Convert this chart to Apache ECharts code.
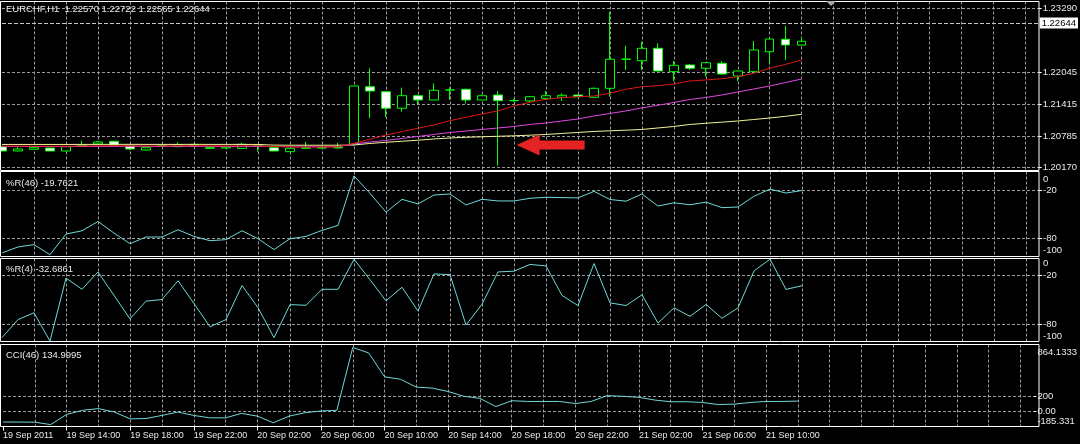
<!DOCTYPE html>
<html><head><meta charset="utf-8">
<script src="https://cdn.jsdelivr.net/npm/echarts@6/dist/echarts.min.js"></script>
<style>html,body{margin:0;padding:0;background:#000;}#c{width:1080px;height:444px;}</style>
</head><body><div id="c"></div>
<script>
// ---------------- data ----------------
const symbolName = 'EURCHF,H1';
// one label every 4 hourly bars, starting at bar 0 (19 Sep 10:00)
const xTickLabels = ['19 Sep 2011','19 Sep 14:00','19 Sep 18:00','19 Sep 22:00','20 Sep 02:00','20 Sep 06:00',
  '20 Sep 10:00','20 Sep 14:00','20 Sep 18:00','20 Sep 22:00','21 Sep 02:00','21 Sep 06:00','21 Sep 10:00'];
const barsPerLabel = 4;
const priceTicks = [1.20170, 1.20785, 1.21415, 1.22045, 1.23290];
const wprGridLevels = [-80, -20];
const wprLabelValues = [-100, -80, -20, 0];
const cciGridLevels = [0, 200];

const open  = [1.20581,1.20497,1.20530,1.20555,1.20497,1.20595,1.20634,1.20687,1.20600,1.20516,1.20598,1.20581,1.20600,1.20560,1.20555,1.20548,1.20600,1.20561,1.20483,1.20550,1.20555,1.20558,
  1.20628,1.21755,1.21658,1.21333,1.21579,1.21495,1.21691,1.21705,1.21495,1.21593,1.21481,1.21476,1.21528,1.21548,1.21593,1.21548,1.21724,1.22292,1.22264,1.22507,1.22049,1.22180,1.22116,1.22213,1.21965,1.22049,1.22440,1.22683,1.22570];
const close = [1.20497,1.20536,1.20561,1.20497,1.20581,1.20610,1.20673,1.20614,1.20536,1.20561,1.20600,1.20620,1.20625,1.20550,1.20575,1.20628,1.20620,1.20497,1.20549,1.20555,1.20560,1.20565,
  1.21769,1.21671,1.21333,1.21579,1.21495,1.21685,1.21691,1.21495,1.21579,1.21481,1.21485,1.21560,1.21579,1.21587,1.21560,1.21724,1.22292,1.22295,1.22507,1.22063,1.22174,1.22116,1.22225,1.22004,1.22063,1.22474,1.22689,1.22572,1.22644];
const low   = [1.20490,1.20490,1.20520,1.20490,1.20490,1.20580,1.20630,1.20605,1.20510,1.20510,1.20580,1.20575,1.20580,1.20530,1.20545,1.20540,1.20483,1.20490,1.20480,1.20545,1.20550,1.20545,
  1.20600,1.21137,1.21157,1.21266,1.21417,1.21490,1.21495,1.21430,1.21490,1.20209,1.21460,1.21450,1.21495,1.21476,1.21550,1.21540,1.21560,1.22082,1.22082,1.22050,1.21867,1.22082,1.21951,1.21990,1.21867,1.22040,1.22194,1.22278,1.22565];
const high  = [1.20590,1.20570,1.20575,1.20565,1.20590,1.20700,1.20690,1.20695,1.20605,1.20565,1.20628,1.20670,1.20640,1.20575,1.20590,1.20660,1.20630,1.20570,1.20555,1.20673,1.20610,1.20660,
  1.21769,1.22116,1.21670,1.21736,1.21600,1.21822,1.21744,1.21720,1.21600,1.21671,1.21520,1.21570,1.21671,1.21625,1.21600,1.21740,1.23223,1.22558,1.22636,1.22605,1.22258,1.22200,1.22240,1.22258,1.22070,1.22650,1.22700,1.22950,1.22722];

const maRed = [1.20593,1.20592,1.20590,1.20590,1.20591,1.20595,1.20598,1.20600,1.20598,1.20596,1.20596,1.20598,1.20600,1.20598,1.20596,1.20597,1.20598,1.20585,1.20578,1.20575,1.20575,1.20578,
  1.20648,1.20726,1.20810,1.20875,1.20941,1.21006,1.21090,1.21157,1.21221,1.21280,1.21378,1.21450,1.21509,1.21540,1.21560,1.21573,1.21626,1.21705,1.21755,1.21775,1.21808,1.21867,1.21887,1.21912,1.21951,1.22018,1.22116,1.22194,1.22278];
const maMagenta = [1.20586,1.20585,1.20585,1.20584,1.20584,1.20585,1.20586,1.20587,1.20587,1.20586,1.20586,1.20587,1.20588,1.20587,1.20586,1.20586,1.20587,1.20583,1.20580,1.20579,1.20579,1.20580,
  1.20634,1.20673,1.20703,1.20742,1.20781,1.20820,1.20859,1.20888,1.20918,1.20947,1.20976,1.21016,1.21045,1.21084,1.21123,1.21182,1.21231,1.21280,1.21339,1.21391,1.21446,1.21505,1.21544,1.21593,1.21652,1.21710,1.21769,1.21838,1.21906];
const maYellow = [1.20625,1.20625,1.20625,1.20625,1.20625,1.20626,1.20626,1.20627,1.20627,1.20626,1.20626,1.20626,1.20627,1.20626,1.20626,1.20626,1.20625,1.20612,1.20610,1.20610,1.20610,1.20610,
  1.20614,1.20644,1.20667,1.20687,1.20708,1.20732,1.20751,1.20765,1.20775,1.20785,1.20794,1.20806,1.20820,1.20840,1.20859,1.20879,1.20892,1.20904,1.20918,1.20947,1.20976,1.21016,1.21039,1.21061,1.21084,1.21113,1.21143,1.21176,1.21215];

const wpr46 = [-97.8,-90.3,-87.4,-100,-74.2,-70.1,-58.5,-73,-86.2,-77.9,-77.9,-68.8,-77.1,-82.5,-81.2,-70.1,-80,-93.6,-80,-77.1,-69.6,-63.4,
  -1.4,-23.3,-46.9,-30.8,-36.5,-25.4,-24.1,-37.8,-30.8,-32.8,-32.8,-29.5,
  -28.2,-28.6,-29,-20.8,-31,-33.1,-24.1,-39.2,-35.1,-37.6,-34.3,-41.2,-40.4,-26.9,-18,-22.9,-19.7621];
const wpr4 = [-95.7,-73.8,-65.5,-100,-23.3,-37,-15.9,-44.4,-73,-51.4,-49.4,-26.6,-54.3,-82.5,-73.8,-32.4,-59.3,-95.7,-55.6,-56.4,-37,-37,
  -0.5,-25.4,-51,-34.5,-63.4,-18.3,-19.2,-80.4,-55.2,-15.9,-15,-6.8,
  -8.6,-44.5,-56.7,-5.7,-53.5,-56.7,-43.7,-78,-59.6,-69.8,-55.5,-72.2,-59.6,-14.7,-0.4,-37.1,-32.6861];
const cci46 = [-150,-150,-152,-185.331,-46.5,9.3,32.6,-14,-107,-102,-60,-14,-60,-93,-93,-32.6,-70,-160,-70,-23,0,9.3,
  864.1333,790,465,432,325,312,265,200,172,60,140,130,
  130,130,102,130,209,200,186,149,126,126,116,88,93,116,130,130,134.9995];

// annotation arrow (hand-drawn red arrow), placed in data space
const arrowAt = {bar: 34.3, price: 1.20614};

// ---------------- chart ----------------
const N = close.length;
const X_MAX = 64.8125;          // visible bar slots incl. right chart shift
const ohlc = open.map((o, i) => [i, o, close[i], low[i], high[i]]);
const pts = arr => arr.map((v, i) => [i, v]);
const xTickVals = xTickLabels.map((_, k) => k * barsPerLabel);

const FONT = 'Liberation Sans';
const TXT = '#e8e8e8';
const GRIDC = '#9a9a9a';
const DASH = [3, 2];
const FS = 9.5;

const pane = [
  {top: 1.5, height: 169, min: 1.20115, max: 1.23423},
  {top: 171.5, height: 85, min: -102.25, max: 4},
  {top: 258.5, height: 83, min: -100.41, max: 0.41},
  {top: 344.5, height: 82, min: -210.9, max: 904.8}
];

const grids = pane.map(p => ({left: 2, right: 41, top: p.top, height: p.height, containLabel: false}));

const xAxes = pane.map((p, gi) => ({
  type: 'value', gridIndex: gi, min: 0, max: X_MAX, interval: 2, position: 'top',
  axisLine: {show: false, onZero: false}, axisTick: {show: false}, axisLabel: {show: false},
  splitLine: {show: true, showMinLine: false, showMaxLine: false, lineStyle: {color: GRIDC, type: DASH, width: 1}}
}));
xAxes.push({
  type: 'value', gridIndex: 3, min: 0, max: X_MAX, position: 'bottom',
  axisLine: {show: false, onZero: false}, splitLine: {show: false},
  axisTick: {show: true, customValues: xTickVals, length: 4, lineStyle: {color: '#ffffff', width: 1}},
  axisLabel: {show: true, customValues: xTickVals, align: 'left', margin: 5, color: TXT, fontSize: 9, fontFamily: FONT,
    formatter: v => xTickLabels[Math.round(v / barsPerLabel)] || ''}
});

const richTB = (pt, pb) => ({
  t: {padding: [pt, 0, 0, 0], color: TXT, fontSize: FS, fontFamily: FONT},
  b: {padding: [0, 0, pb, 0], color: TXT, fontSize: FS, fontFamily: FONT}
});
function yAxis(gi, gridVals, labelVals, fmt, rich) {
  return {
    type: 'value', gridIndex: gi, position: 'right', min: pane[gi].min, max: pane[gi].max,
    axisLine: {show: false, onZero: false},
    axisTick: {show: true, length: 3, customValues: gridVals, lineStyle: {color: '#ffffff'}},
    splitLine: {show: true, showMinLine: true, showMaxLine: true, lineStyle: {color: GRIDC, type: DASH, width: 1}},
    axisLabel: {show: true, customValues: labelVals, formatter: fmt, margin: 4, color: TXT, fontSize: FS, fontFamily: FONT, rich: rich}
  };
}
const cciMax = Math.max(...cci46), cciMin = Math.min(...cci46);
const yAxes = [
  yAxis(0, priceTicks, priceTicks, v => v.toFixed(5)),
  yAxis(1, wprGridLevels, wprLabelValues, v => v === 0 ? '{t|0}' : (v === -100 ? '{b|-100}' : String(v)), richTB(9, 9)),
  yAxis(2, wprGridLevels, wprLabelValues, v => v === 0 ? '{t|0}' : (v === -100 ? '{b|-100}' : String(v)), richTB(9, 9)),
  yAxis(3, cciGridLevels, [cciMin, 0, 200, cciMax], v => {
    if (Math.abs(v - cciMax) < 1e-6) return '{t|' + cciMax.toFixed(4) + '}';
    if (Math.abs(v - cciMin) < 1e-6) return '{b|' + cciMin.toFixed(3) + '}';
    if (v === 0) return '0.00';
    return String(v);
  }, richTB(9, 7))
];

const ARROW = 'path://M0,10.5 L23,0 L23,6 L68,6 L68,15 L23,15 L23,21 Z';
const lineS = (gi, data, color) => ({
  type: 'line', xAxisIndex: gi, yAxisIndex: gi, data: pts(data), showSymbol: false, symbol: 'none',
  lineStyle: {color: color, width: 1}, silent: true, z: 3
});

const last = N - 1;
const series = [
  {
    type: 'candlestick', xAxisIndex: 0, yAxisIndex: 0, data: ohlc, barWidth: 9, clip: false, z: 2,
    itemStyle: {color: '#000000', color0: '#ffffff', borderColor: '#00ff00', borderColor0: '#00ff00', borderColorDoji: '#00ff00', borderWidth: 1},
    markLine: {
      silent: true, symbol: 'none', animation: false,
      lineStyle: {color: '#c4c4c4', type: [4, 2], width: 1},
      label: {show: true, position: 'end', distance: 1, formatter: close[last].toFixed(5), backgroundColor: '#ffffff',
        color: '#000000', padding: [1, 2, 0, 2], fontSize: FS, fontFamily: FONT},
      data: [{yAxis: close[last]}]
    },
    markPoint: {
      silent: true, animation: false,
      data: [{coord: [arrowAt.bar, arrowAt.price], symbol: ARROW, symbolSize: [68, 21], symbolKeepAspect: false,
        itemStyle: {color: '#e42424'}, label: {show: false}}]
    }
  },
  lineS(0, maYellow, '#f2f29a'),
  lineS(0, maMagenta, '#e048e0'),
  lineS(0, maRed, '#e01818'),
  lineS(1, wpr46, '#70d8d8'),
  lineS(2, wpr4, '#70d8d8'),
  lineS(3, cci46, '#70d8d8')
];

const titles = [
  {text: symbolName + '  ' + open[last].toFixed(5) + ' ' + high[last].toFixed(5) + ' ' + low[last].toFixed(5) + ' ' + close[last].toFixed(5), y: 9.5},
  {text: '%R(46) ' + wpr46[last].toFixed(4), y: 183},
  {text: '%R(4) ' + wpr4[last].toFixed(4), y: 269},
  {text: 'CCI(46) ' + cci46[last].toFixed(4), y: 355}
];

const graphic = [];
pane.forEach(p => {
  graphic.push({type: 'rect', silent: true, z: 100,
    shape: {x: 0.5, y: p.top, width: 1038.5, height: p.height},
    style: {fill: null, stroke: '#ffffff', lineWidth: 1}});
});
titles.forEach(t => graphic.push({type: 'text', silent: true, z: 101, x: 6, y: t.y,
  style: {text: t.text, fill: TXT, fontSize: FS, fontFamily: FONT, verticalAlign: 'middle', align: 'left'}}));
// chart-shift marker
graphic.push({type: 'polygon', silent: true, z: 101, shape: {points: [[826, 1], [836, 1], [831, 6]]}, style: {fill: '#a8a8a8'}});

const chart = echarts.init(document.getElementById('c'), null, {renderer: 'canvas'});
chart.setOption({
  backgroundColor: '#000000',
  animation: false,
  textStyle: {fontFamily: FONT},
  grid: grids,
  xAxis: xAxes,
  yAxis: yAxes,
  series: series,
  graphic: graphic
});
</script>
</body></html>
